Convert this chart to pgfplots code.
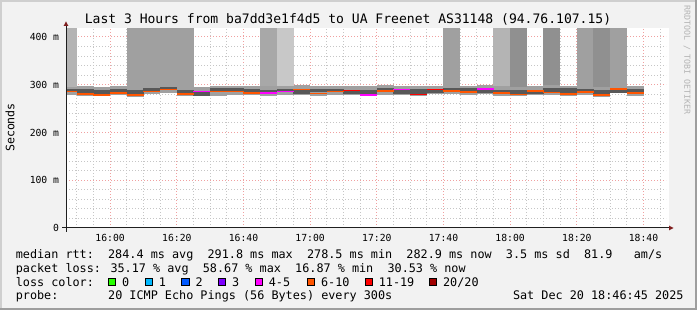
\documentclass[border=0pt]{standalone}
\usepackage{fontspec}
\setmainfont{DejaVu Sans Mono}
\usepackage{pgfplots}
\pgfplotsset{compat=1.18}
\usepackage{pgfplotstable}

\definecolor{bgc}{HTML}{F2F2F2}
\definecolor{shadea}{HTML}{CFCFCF}
\definecolor{shadeb}{HTML}{9E9E9E}
\definecolor{gridc}{HTML}{C6C6C6}
\definecolor{mgridc}{HTML}{F0A0A0}
\definecolor{arrowc}{HTML}{801F1F}
\definecolor{axisc}{HTML}{1F1F1F}
\definecolor{lc0}{HTML}{26FF00}
\definecolor{lc1}{HTML}{00B8FF}
\definecolor{lc2}{HTML}{0059FF}
\definecolor{lc3}{HTML}{7E00FF}
\definecolor{lc5}{HTML}{FF00FF}
\definecolor{lc10}{HTML}{FF5500}
\definecolor{lc19}{HTML}{FF0000}
\definecolor{lc20}{HTML}{A10000}
\definecolor{smokeout}{HTML}{A0A0A0}
\definecolor{smokedark}{HTML}{585858}
\definecolor{tallA}{HTML}{B4B4B4}
\definecolor{tallB}{HTML}{A0A0A0}
\definecolor{tallC}{HTML}{A8A8A8}
\definecolor{tallD}{HTML}{C8C8C8}
\definecolor{tallE}{HTML}{909090}

% xc: centre of each 5-min step, minutes after 16:00; med: median rtt (ms)
% lo/hi: smoke extent, dlo/dhi: dense smoke core, c: loss colour (1=6-10, 2=4-5, 3=11-19), t: tall smoke shade
\pgfplotstableread{
xc     med   lo  hi  dlo dhi c t
-12.5  285.9 279 296 287 292 1 1
-7.5   281.2 276 297 283 292 1 0
-2.5   279.2 276 296 281 290 1 0
2.5    283.2 278 298 284 291 1 0
7.5    278.5 275 296 281 289 1 2
12.5   286.3 280 298 287 293 1 2
17.5   290.5 283 299 291 296 1 2
22.5   281.2 277 297 283 290 1 2
27.5   285.9 277 296 277 284 2 0
32.5   285.9 277 298 287 293 1 0
37.5   286.3 279 298 287 293 1 0
42.5   283.4 278 297 284 291 1 0
47.5   282.7 277 297 284 290 2 3
52.5   285.9 279 297 287 292 2 4
57.5   290.5 279 299 280 289 1 0
62.5   282.3 277 298 284 292 1 0
67.5   285.9 279 297 287 292 1 0
72.5   288.0 279 298 281 287 3 0
77.5   278.6 276 297 280 290 2 0
82.5   286.9 279 299 288 294 1 0
87.5   290.1 279 298 281 289 2 0
92.5   280.2 276 297 281 291 3 0
97.5   290.7 280 298 282 290 3 0
102.5  286.9 280 298 288 293 1 2
107.5  285.2 279 298 286 293 1 0
112.5  291.8 280 299 283 291 2 0
117.5  283.2 277 297 284 290 1 1
122.5  280.2 276 296 281 288 1 5
127.5  287.7 279 298 280 287 1 0
132.5  283.8 278 299 285 294 1 5
137.5  281.5 277 298 283 293 1 0
142.5  284.8 279 297 286 292 1 2
147.5  278.5 275 296 280 288 1 5
152.5  291.1 282 299 283 291 1 2
157.5  282.9 277 297 284 291 1 0
}\data

\pgfplotsset{
  band/.style={draw=none, mark=none, forget plot,
    error bars/y dir=plus, error bars/y explicit, error bars/error mark=none,
    error bars/error bar style={draw=#1, line width=16.75bp, line cap=butt}},
  medline/.style={draw=none, mark=none, forget plot,
    error bars/y dir=both, error bars/y fixed=1.05, error bars/error mark=none,
    error bars/error bar style={draw=#1, line width=16.75bp, line cap=butt}},
}

\begin{document}
\begin{tikzpicture}
\fill[bgc] (0,0) rectangle (697bp,310bp);
\fill[shadea] (0,0) rectangle (2bp,310bp);
\fill[shadea] (0,308bp) rectangle (697bp,310bp);
\fill[shadeb] (0,0) rectangle (697bp,2bp);
\fill[shadeb] (695bp,0) rectangle (697bp,310bp);
\fill[white] (66bp,82bp) rectangle (668.5bp,282bp);

\begin{axis}[
  at={(66bp,82bp)}, anchor=south west,
  scale only axis, width=600bp, height=200bp,
  xmin=-13.25, xmax=166.75, ymin=0, ymax=418.8,
  axis line style={draw=none},
  xtick={0,20,...,160},
  xticklabels={16:00,16:20,16:40,17:00,17:20,17:40,18:00,18:20,18:40},
  minor xtick={-10,-5,5,10,15,25,30,35,45,50,55,65,70,75,85,90,95,105,110,115,125,130,135,145,150,155,165},
  ytick={0,100,200,300,400},
  yticklabels={0,100 m,200 m,300 m,400 m},
  minor ytick={20,40,60,80,120,140,160,180,220,240,260,280,320,340,360,380},
  grid=both,
  minor grid style={gridc, line width=1bp, dash pattern=on 1bp off 2bp},
  major grid style={mgridc, line width=1bp, dash pattern=on 1bp off 2bp},
  major tick length=0pt, minor tick length=0pt,
  tick label style={font=\fontsize{9.75bp}{10bp}\selectfont, inner sep=0pt},
  yticklabel style={anchor=east, xshift=-6.7bp},
  xticklabel style={anchor=north, yshift=-6bp},
]
% outer smoke
\addplot[band=smokeout] table[x=xc, y=lo, y error expr=\thisrow{hi}-\thisrow{lo}]{\data};
% tall smoke (outlier pings beyond the top)
\addplot[band=tallA, restrict expr to domain={\thisrow{t}}{1:1}] table[x=xc, y=hi, y error expr=418.8-\thisrow{hi}]{\data};
\addplot[band=tallB, restrict expr to domain={\thisrow{t}}{2:2}] table[x=xc, y=hi, y error expr=418.8-\thisrow{hi}]{\data};
\addplot[band=tallC, restrict expr to domain={\thisrow{t}}{3:3}] table[x=xc, y=hi, y error expr=418.8-\thisrow{hi}]{\data};
\addplot[band=tallD, restrict expr to domain={\thisrow{t}}{4:4}] table[x=xc, y=hi, y error expr=418.8-\thisrow{hi}]{\data};
\addplot[band=tallE, restrict expr to domain={\thisrow{t}}{5:5}] table[x=xc, y=hi, y error expr=418.8-\thisrow{hi}]{\data};
% dense core
\addplot[band=smokedark] table[x=xc, y=dlo, y error expr=\thisrow{dhi}-\thisrow{dlo}]{\data};
% median, coloured by loss
\addplot[medline=lc10, restrict expr to domain={\thisrow{c}}{1:1}] table[x=xc, y=med]{\data};
\addplot[medline=lc5, restrict expr to domain={\thisrow{c}}{2:2}] table[x=xc, y=med]{\data};
\addplot[medline=lc19, restrict expr to domain={\thisrow{c}}{3:3}] table[x=xc, y=med]{\data};
\end{axis}

\begin{scope}[x=1bp,y=-1bp,shift={(0bp,310bp)}]
\draw[axisc, line width=1bp] (62,228) -- (669,228);
\fill[arrowc] (669,225.6) -- (673.5,228) -- (669,230.4) -- cycle;
\draw[axisc, line width=1bp] (66,232) -- (66,26);
\fill[arrowc] (63.6,26) -- (66,21.5) -- (68.4,26) -- cycle;

\node[anchor=base, inner sep=0pt, font=\fontsize{13.05bp}{14bp}\selectfont] at (348,23.6) {Last 3 Hours from ba7dd3e1f4d5 to UA Freenet AS31148 (94.76.107.15)};
\node[rotate=90, inner sep=0pt, font=\fontsize{11.6bp}{12bp}\selectfont] at (10,127.5) {Seconds};
\node[rotate=-90, inner sep=0pt, text=tallA, font=\fontsize{8.3bp}{9bp}\selectfont] at (687,60) {RRDTOOL / TOBI OETIKER};

\begin{scope}[every node/.style={anchor=base west, inner sep=0pt, font=\fontsize{11.8bp}{12bp}\selectfont}]
\node at (15.6,258.3) {median rtt:~~284.4 ms avg~~291.8 ms max~~278.5 ms min~~282.9 ms now~~3.5 ms sd~~81.9~~~am/s};
\node at (15.6,272.3) {packet loss: 35.17 \% avg~~58.67 \% max~~16.87 \% min~~30.53 \% now};
\node at (15.6,286.1) {loss color:};
\node at (15.6,300) {probe:~~~~~~~20 ICMP Echo Pings (56 Bytes) every 300s};
\node at (512.8,300) {Sat Dec 20 18:46:45 2025};
\foreach \bx/\col/\lab in {108.3/lc0/0, 145/lc1/1, 181.7/lc2/2, 218.3/lc3/3, 255/lc5/4-5, 307.3/lc10/6-10, 365/lc19/11-19, 429.3/lc20/20\slash 20}{
  \filldraw[fill=\col, draw=black, line width=0.8bp] (\bx,278) rectangle ++(7.3,7.3);
  \node at (\bx+13.6,286.1) {\lab};
}
\end{scope}
\end{scope}
\pgfresetboundingbox
\path[use as bounding box] (0,0) rectangle (697bp,310bp);
\end{tikzpicture}
\end{document}
